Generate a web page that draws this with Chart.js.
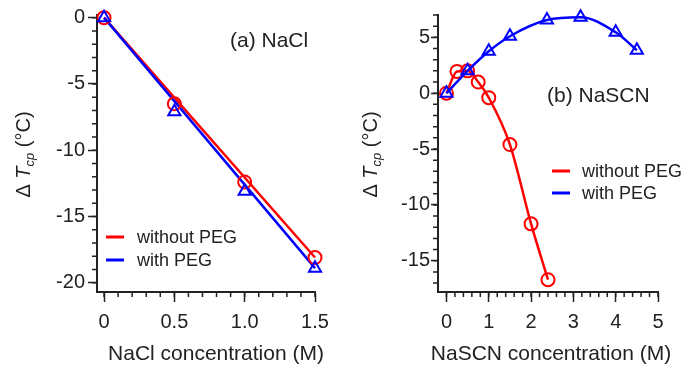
<!DOCTYPE html>
<html>
<head>
<meta charset="utf-8">
<script src="https://cdn.jsdelivr.net/npm/chart.js@4.4.0/dist/chart.umd.min.js"></script>
<style>
  html, body { margin: 0; padding: 0; background: #fff; }
  #wrap { width: 696px; height: 367px; display: flex; }
  canvas { display: block; }
</style>
</head>
<body>
<div id="wrap">
  <canvas id="nacl" width="348" height="367"></canvas>
  <canvas id="nascn" width="348" height="367"></canvas>
</div>
<script>
// (a) NaCl
var naclConc = [0, 0.5, 1.0, 1.5];
var naclWithout = [0, -6.5, -12.4, -18.1];
var naclWith = [0, -7.1, -13.1, -18.9];
// straight fit lines (end points)
var naclFitX = [0, 1.5];
var naclFitWithout = [0, -18.1];
var naclFitWith = [0, -18.9];

// (b) NaSCN
var nascnConcWithout = [0, 0.25, 0.5, 0.75, 1.0, 1.5, 2.0, 2.4];
var nascnWithout = [0, 1.95, 2.0, 1.0, -0.4, -4.6, -11.7, -16.7];
var nascnConcWith = [0, 0.5, 1.0, 1.5, 2.375, 3.17, 4.0, 4.5];
var nascnWith = [0, 2.0, 3.75, 5.1, 6.55, 6.8, 5.45, 3.85];

var naclXTicks = [0, 0.5, 1.0, 1.5];
var naclXLabels = ['0', '0.5', '1.0', '1.5'];
var naclYTicks = [-20, -15, -10, -5, 0];
var nascnXTicks = [0, 1, 2, 3, 4, 5];
var nascnYTicks = [-15, -10, -5, 0, 5];
var seriesNames = ['without PEG', 'with PEG'];

var RED = '#ff0000';
var BLUE = '#0000ff';
var INK = '#222222';
var FONT = "'Liberation Sans', Arial, sans-serif";

function pts(xs, ys) {
    return xs.map(function (x, i) { return {x: x, y: ys[i]}; });
}

function axis(min, max, ticks, labels, isX, fitSize, tickLen, pad) {
    return {
        type: 'linear',
        min: min,
        max: max,
        border: {color: INK, width: 2},
        grid: {drawOnChartArea: false, drawTicks: true, tickLength: tickLen, tickColor: INK, tickWidth: 1.5},
        ticks: {
            color: INK,
            font: {family: FONT, size: 20},
            padding: pad,
            autoSkip: false,
            maxRotation: 0,
            callback: function (v, i) { return labels ? labels[i] : String(v); }
        },
        afterBuildTicks: function (s) {
            s.ticks = ticks.map(function (v) { return {value: v}; });
        },
        afterFit: function (s) {
            if (isX) s.height = fitSize; else s.width = fitSize;
        }
    };
}

function minorTicks(ctx, scale, isX, from, to, step, len) {
    ctx.save();
    ctx.strokeStyle = INK;
    ctx.lineWidth = 1.5;
    ctx.beginPath();
    for (var v = from; v <= to + 1e-9; v += step) {
        var p = scale.getPixelForValue(v);
        if (isX) {
            ctx.moveTo(p, scale.top);
            ctx.lineTo(p, scale.top + len);
        } else {
            ctx.moveTo(scale.right - len, p);
            ctx.lineTo(scale.right, p);
        }
    }
    ctx.stroke();
    ctx.restore();
}

function yTitle(ctx, baseX, cy) {
    var parts = [
        {t: '\u0394 ', f: '20px ' + FONT, dy: 0},
        {t: 'T', f: 'italic 20px ' + FONT, dy: 0},
        {t: 'cp', f: 'italic 13px ' + FONT, dy: 4},
        {t: ' (\u00B0C)', f: '20px ' + FONT, dy: 0}
    ];
    ctx.save();
    ctx.fillStyle = INK;
    ctx.textBaseline = 'alphabetic';
    ctx.textAlign = 'left';
    var w = 0;
    parts.forEach(function (p) { ctx.font = p.f; p.w = ctx.measureText(p.t).width; w += p.w; });
    ctx.translate(baseX, cy);
    ctx.rotate(-Math.PI / 2);
    var x = -w / 2;
    parts.forEach(function (p) { ctx.font = p.f; ctx.fillText(p.t, x, p.dy); x += p.w; });
    ctx.restore();
}

var decor = {
    id: 'decor',
    afterDraw: function (chart, args, o) {
        var ctx = chart.ctx;
        minorTicks(ctx, chart.scales.x, true, o.xMinor[0], o.xMinor[1], o.xMinor[2], 5);
        minorTicks(ctx, chart.scales.y, false, o.yMinor[0], o.yMinor[1], o.yMinor[2], 5);

        // legend
        ctx.save();
        ctx.lineWidth = 3;
        [RED, BLUE].forEach(function (c, i) {
            var y = o.legend.y + i * o.legend.dy;
            ctx.strokeStyle = c;
            ctx.beginPath();
            ctx.moveTo(o.legend.x, y);
            ctx.lineTo(o.legend.x + 18, y);
            ctx.stroke();
            ctx.fillStyle = INK;
            ctx.font = '18px ' + FONT;
            ctx.textBaseline = 'middle';
            ctx.fillText(seriesNames[i], o.legend.tx, y + 1);
        });

        // panel label and x title
        ctx.textBaseline = 'alphabetic';
        ctx.font = '21px ' + FONT;
        ctx.fillText(o.label.t, o.label.x, o.label.y);
        ctx.textAlign = 'center';
        ctx.fillText(o.xTitle.t, o.xTitle.x, o.xTitle.y);
        ctx.restore();

        yTitle(ctx, o.yTitleX, (chart.chartArea.top + chart.chartArea.bottom) / 2 + 1);
    }
};

function lineSet(data, color, order, extra) {
    var d = {
        data: data,
        borderColor: color,
        backgroundColor: 'rgba(0,0,0,0)',
        borderWidth: 2.5,
        pointBorderColor: color,
        pointBackgroundColor: 'rgba(0,0,0,0)',
        pointBorderWidth: 2,
        clip: false,
        order: order
    };
    for (var k in extra) d[k] = extra[k];
    return d;
}

function baseOptions(scales, layoutRight, decorOpts) {
    return {
        responsive: false,
        animation: false,
        layout: {padding: {left: 0, top: 15, right: layoutRight, bottom: 0}},
        scales: scales,
        plugins: {legend: {display: false}, tooltip: {enabled: false}, decor: decorOpts}
    };
}

new Chart(document.getElementById('nacl').getContext('2d'), {
    type: 'scatter',
    data: {
        datasets: [
            lineSet(pts(naclConc, naclWith), BLUE, 0, {showLine: false, pointStyle: 'triangle', pointRadius: 7}),
            lineSet(pts(naclConc, naclWithout), RED, 1, {showLine: false, pointStyle: 'circle', pointRadius: 6.5}),
            lineSet(pts(naclFitX, naclFitWith), BLUE, 2, {showLine: true, pointRadius: 0}),
            lineSet(pts(naclFitX, naclFitWithout), RED, 3, {showLine: true, pointRadius: 0})
        ]
    },
    options: baseOptions({
        x: axis(-0.05, 1.5, naclXTicks, naclXLabels, true, 75, 10, 8),
        y: axis(-20.7, 0.2, naclYTicks, null, false, 97, 9, 3)
    }, 33, {
        xMinor: [0, 1.5, 0.1],
        yMinor: [-20, 0, 1],
        legend: {x: 106, y: 237, dy: 23, tx: 137},
        label: {t: '(a) NaCl', x: 230, y: 47},
        xTitle: {t: 'NaCl concentration (M)', x: 216, y: 360},
        yTitleX: 30
    }),
    plugins: [decor]
});

new Chart(document.getElementById('nascn').getContext('2d'), {
    type: 'scatter',
    data: {
        datasets: [
            lineSet(pts(nascnConcWith, nascnWith), BLUE, 0, {showLine: true, pointStyle: 'triangle', pointRadius: 7, cubicInterpolationMode: 'monotone'}),
            lineSet(pts(nascnConcWithout, nascnWithout), RED, 1, {showLine: true, pointStyle: 'circle', pointRadius: 6.5, cubicInterpolationMode: 'monotone'})
        ]
    },
    options: baseOptions({
        x: axis(-0.2, 5, nascnXTicks, null, true, 75, 10, 8),
        y: axis(-17.8, 7.0, nascnYTicks, null, false, 90, 7, 1)
    }, 38, {
        xMinor: [0, 5, 0.2],
        yMinor: [-17, 7, 1],
        legend: {x: 204, y: 171, dy: 22, tx: 234},
        label: {t: '(b) NaSCN', x: 199, y: 102},
        xTitle: {t: 'NaSCN concentration (M)', x: 203, y: 360},
        yTitleX: 29
    }),
    plugins: [decor]
});
</script>
</body>
</html>
